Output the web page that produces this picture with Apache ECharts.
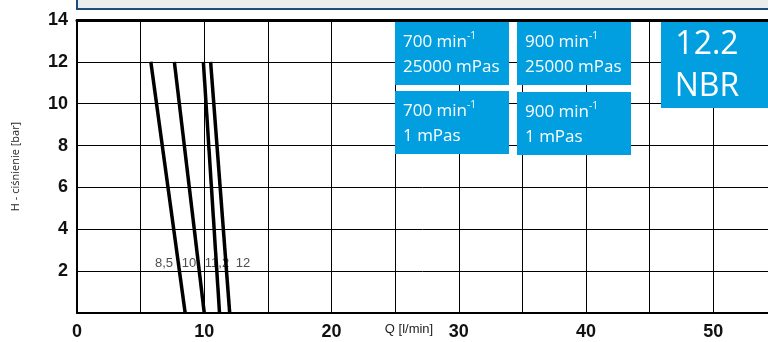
<!DOCTYPE html>
<html>
<head>
<meta charset="utf-8">
<script src="https://cdn.jsdelivr.net/npm/echarts@6/dist/echarts.min.js"></script>
<style>
  html, body { margin: 0; padding: 0; background: #fff; }
  #chart { width: 768px; height: 342px; }
</style>
</head>
<body>
<div id="chart"></div>
<script>
// Pump curves: flow Q [l/min] against pressure H [bar]
const curveNames = ['8,5', '10', '11,2', '12'];
// each curve runs from the top point (H = 12 bar) down to zero pressure
const curveTopQ = [5.8, 7.65, 9.93, 10.5];
const curveTopH = [12, 12, 12, 12];
const curveBottomQ = [8.5, 10, 11.2, 12];
const curveBottomH = [0, 0, 0, 0];
// flow labels placed along a row just above 2 bar
const labelQ = [6.84, 8.8, 11.0, 13.05];
const labelH = [2.38, 2.38, 2.38, 2.38];

const xTicks = [0, 10, 20, 30, 40, 50];
const yTicks = [2, 4, 6, 8, 10, 12, 14];

const chart = echarts.init(document.getElementById('chart'), null, { renderer: 'canvas' });

const lineSeries = curveNames.map((n, i) => ({
  name: n,
  type: 'line',
  data: [[curveTopQ[i], curveTopH[i]], [curveBottomQ[i], curveBottomH[i]]],
  symbol: 'none',
  lineStyle: { color: '#000', width: 3.5 },
  z: 5,
  silent: true
}));

const labelSeries = {
  type: 'scatter',
  symbolSize: 0,
  z: 3,
  silent: true,
  data: labelQ.map((q, i) => ({ value: [q, labelH[i]], name: curveNames[i] })),
  label: {
    show: true,
    position: 'inside',
    formatter: p => p.name,
    color: '#222',
    fontSize: 13,
    fontFamily: 'Liberation Sans, Arial, sans-serif'
  }
};

const FONT_BOX = 'Open Sans, Noto Sans, sans-serif';
const BLUE = '#019fe0';

function infoBox(x, y, w, h, rpm, visc) {
  return [
    { type: 'rect', z: 20, shape: { x: x, y: y, width: w, height: h }, style: { fill: BLUE } },
    {
      type: 'text', z: 21, x: x + 8, y: y + 8,
      style: {
        text: '{n|' + rpm + ' min}{sup|-1}\n{n|' + visc + '}',
        fill: '#fff',
        rich: {
          n: { fontSize: 17, fill: '#fff', fontFamily: FONT_BOX, lineHeight: 25 },
          sup: { fontSize: 10, fill: '#fff', fontFamily: FONT_BOX, lineHeight: 25, padding: [0, 0, 12, 0] }
        }
      }
    }
  ];
}

const option = {
  animation: false,
  backgroundColor: '#fff',
  grid: { left: 77, right: 0, top: 20, bottom: 29, containLabel: false },
  xAxis: [{
    type: 'value',
    min: 0,
    max: 54.3,
    interval: 5,
    axisLine: { show: true, lineStyle: { color: '#000', width: 2 } },
    axisTick: { show: false },
    splitLine: { show: true, lineStyle: { color: '#000', width: 1 } },
    axisLabel: {
      color: '#111',
      fontSize: 18,
      fontWeight: 'bold',
      fontFamily: 'Liberation Sans, Arial, sans-serif',
      margin: 10,
      showMaxLabel: false,
      formatter: v => (xTicks.indexOf(v) >= 0 ? String(v) : '')
    }
  }, {
    type: 'value',
    position: 'top',
    min: 0,
    max: 54.3,
    axisLine: { show: true, onZero: false, lineStyle: { color: '#000', width: 3 } },
    axisTick: { show: false },
    axisLabel: { show: false },
    splitLine: { show: false }
  }],
  yAxis: {
    type: 'value',
    min: 0,
    max: 14,
    interval: 2,
    name: 'H - ciśnienie [bar]',
    nameLocation: 'middle',
    nameGap: 56,
    nameTextStyle: { color: '#222', fontSize: 11, fontFamily: FONT_BOX },
    axisLine: { show: true, lineStyle: { color: '#000', width: 2 } },
    axisTick: { show: false },
    splitLine: { show: true, lineStyle: { color: '#000', width: 1 } },
    axisLabel: {
      color: '#111',
      fontSize: 18,
      fontWeight: 'bold',
      fontFamily: 'Liberation Sans, Arial, sans-serif',
      margin: 9,
      formatter: v => (yTicks.indexOf(v) >= 0 ? String(v) : '')
    }
  },
  series: lineSeries.concat([labelSeries]),
  graphic: [
    // header strip above the plot
    { type: 'rect', z: 20, shape: { x: 77, y: -4, width: 700, height: 13 },
      style: { fill: '#ececec', stroke: '#1b4d7a', lineWidth: 2 } },
    // axis title
    { type: 'text', z: 20, x: 409, y: 329,
      style: { text: 'Q [l/min]', fill: '#222', fontSize: 13,
               fontFamily: 'Liberation Sans, Arial, sans-serif',
               align: 'center', verticalAlign: 'middle' } }
  ].concat(
    // operating condition boxes
    infoBox(395, 22, 114, 63, '700', '25000 mPas'),
    infoBox(517, 22, 114, 63, '900', '25000 mPas'),
    infoBox(395, 91, 114, 63, '700', '1 mPas'),
    infoBox(517, 92, 114, 63, '900', '1 mPas'),
    [
      // model / seal box
      { type: 'rect', z: 20, shape: { x: 661, y: 22, width: 110, height: 86 }, style: { fill: BLUE } },
      { type: 'text', z: 21, x: 707, y: 45,
        style: { text: '12.2', fill: '#fff', fontSize: 32, align: 'center', verticalAlign: 'middle',
                 fontFamily: FONT_BOX } },
      { type: 'text', z: 21, x: 707, y: 87,
        style: { text: 'NBR', fill: '#fff', fontSize: 32, align: 'center', verticalAlign: 'middle',
                 fontFamily: FONT_BOX } }
    ]
  )
};

chart.setOption(option);
</script>
</body>
</html>
